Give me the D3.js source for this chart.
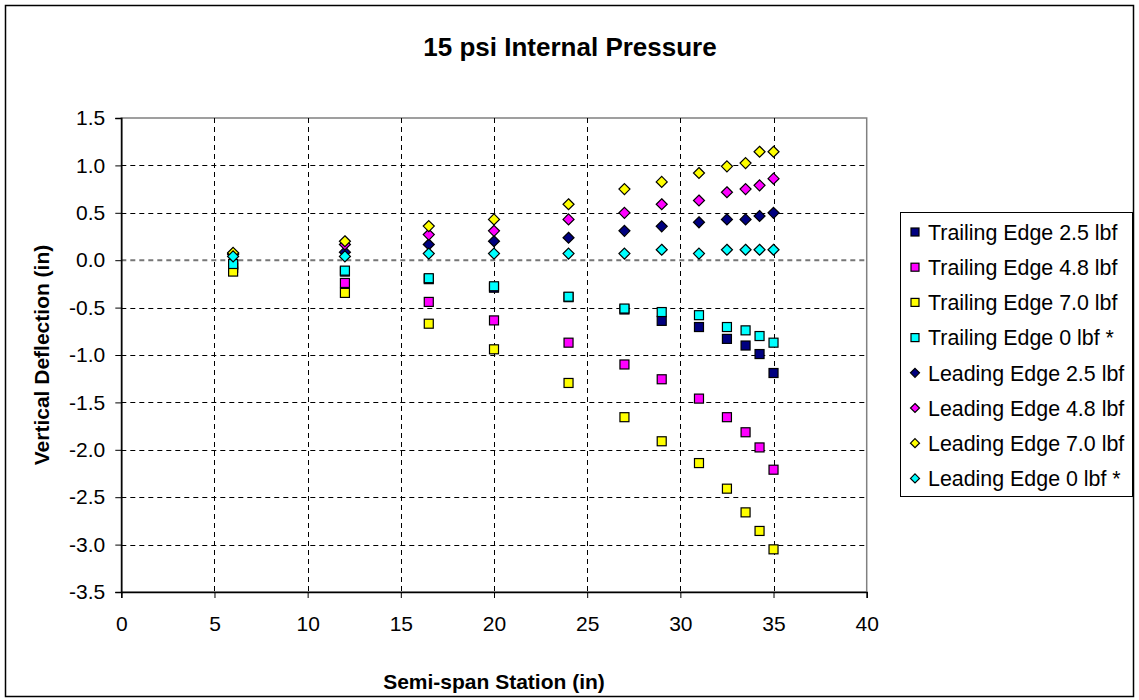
<!DOCTYPE html>
<html>
<head>
<meta charset="utf-8">
<script src="https://cdn.jsdelivr.net/npm/d3@7"></script>
<style>
  html, body { margin: 0; padding: 0; background: #fff; }
  svg { display: block; font-family: "Liberation Sans", Arial, sans-serif; }
</style>
</head>
<body>
<svg id="chart" width="1139" height="700"></svg>
<script>
// ---- data ----
const stations = [6, 12, 16.5, 20, 24, 27, 29, 31, 32.5, 33.5, 34.25, 35];
const trailing25 = [-0.05, -0.12, -0.20, -0.29, -0.39, -0.52, -0.64, -0.705, -0.83, -0.90, -0.99, -1.19];
const trailing48 = [-0.08, -0.24, -0.44, -0.635, -0.87, -1.10, -1.256, -1.46, -1.656, -1.815, -1.975, -2.21];
const trailing70 = [-0.12, -0.345, -0.67, -0.94, -1.295, -1.656, -1.91, -2.14, -2.41, -2.66, -2.856, -3.05];
const trailing0 = [-0.04, -0.11, -0.19, -0.275, -0.385, -0.51, -0.547, -0.58, -0.705, -0.74, -0.80, -0.87];
const leading25 = [0.06, 0.085, 0.166, 0.20, 0.237, 0.31, 0.357, 0.40, 0.43, 0.43, 0.466, 0.50];
const leading48 = [0.07, 0.166, 0.27, 0.31, 0.43, 0.50, 0.59, 0.63, 0.717, 0.75, 0.79, 0.86];
const leading70 = [0.078, 0.20, 0.36, 0.43, 0.59, 0.75, 0.826, 0.92, 0.99, 1.024, 1.144, 1.144];
const leading0 = [0.04, 0.04, 0.07, 0.07, 0.07, 0.07, 0.11, 0.07, 0.11, 0.11, 0.11, 0.11];

const seriesNames = ["Trailing Edge 2.5 lbf", "Trailing Edge 4.8 lbf", "Trailing Edge 7.0 lbf", "Trailing Edge 0 lbf *",
                     "Leading Edge 2.5 lbf", "Leading Edge 4.8 lbf", "Leading Edge 7.0 lbf", "Leading Edge 0 lbf *"];
const seriesValues = [trailing25, trailing48, trailing70, trailing0, leading25, leading48, leading70, leading0];
const seriesColors = ["#000080", "#FF00FF", "#FFFF00", "#00FFFF", "#000080", "#FF00FF", "#FFFF00", "#00FFFF"];
const seriesShapes = ["square", "square", "square", "square", "diamond", "diamond", "diamond", "diamond"];

const xTicks = [0, 5, 10, 15, 20, 25, 30, 35, 40];
const yTicks = [1.5, 1.0, 0.5, 0.0, -0.5, -1.0, -1.5, -2.0, -2.5, -3.0, -3.5];

const titleText = "15 psi Internal Pressure";
const xTitle = "Semi-span Station (in)";
const yTitle = "Vertical Deflection (in)";

// ---- layout ----
const svg = d3.select("#chart");
const W = 1139, H = 700;
const plot = { left: 121.3, right: 866.7, top: 118, bottom: 592 };

const x = d3.scaleLinear().domain([0, 40]).range([plot.left, plot.right]);
const y = d3.scaleLinear().domain([-3.5, 1.5]).range([plot.bottom, plot.top]);

// outer border
svg.append("rect").attr("x", 5.5).attr("y", 5.5).attr("width", W - 11).attr("height", H - 9)
  .attr("fill", "#fff").attr("stroke", "#000").attr("stroke-width", 1.5);

// plot area frame (top/right gray)
svg.append("rect").attr("x", plot.left).attr("y", plot.top)
  .attr("width", plot.right - plot.left).attr("height", plot.bottom - plot.top)
  .attr("fill", "#fff").attr("stroke", "#808080").attr("stroke-width", 1.5);

// gridlines
const grid = svg.append("g");
grid.selectAll("line.v").data(xTicks.filter(d => d > 0 && d < 40)).enter().append("line")
  .attr("x1", d => Math.round(x(d)) + 0.5).attr("x2", d => Math.round(x(d)) + 0.5)
  .attr("y1", plot.top).attr("y2", plot.bottom)
  .attr("stroke", "#000").attr("stroke-width", 1).attr("stroke-dasharray", "5,4");
grid.selectAll("line.h").data(yTicks.filter(d => d > -3.5 && d < 1.5)).enter().append("line")
  .attr("x1", plot.left).attr("x2", plot.right)
  .attr("y1", d => d === 0 ? y(d) : Math.round(y(d)) + 0.5)
  .attr("y2", d => d === 0 ? y(d) : Math.round(y(d)) + 0.5)
  .attr("stroke", d => d === 0 ? "#777" : "#000")
  .attr("stroke-width", d => d === 0 ? 2 : 1)
  .attr("stroke-dasharray", "5,4");

// axes
const fmtY = d3.format(".1f");
const yAxis = svg.append("g").attr("transform", `translate(${plot.left},0)`)
  .call(d3.axisLeft(y).tickValues(yTicks).tickFormat(d => fmtY(d).replace("−", "-")).tickSize(6).tickPadding(10));
const xAxis = svg.append("g").attr("transform", `translate(0,${plot.bottom})`)
  .call(d3.axisBottom(x).tickValues(xTicks).tickFormat(d3.format("d")).tickSize(6).tickPadding(18));
[xAxis, yAxis].forEach(a => {
  a.select(".domain").attr("stroke", "#000").attr("stroke-width", 1.5);
  a.selectAll(".tick line").attr("stroke", "#000").attr("stroke-width", 1);
  a.selectAll(".tick text").attr("fill", "#000").style("font-size", "21px")
    .style("font-family", '"Liberation Sans", Arial, sans-serif');
});

// markers
const diamondPath = (s) => `M0,${-s}L${s},0L0,${s}L${-s},0Z`;
seriesValues.forEach((vals, i) => {
  const g = svg.append("g");
  const pts = stations.map((s, j) => ({ s, v: vals[j] }));
  if (seriesShapes[i] === "square") {
    g.selectAll("rect").data(pts).enter().append("rect")
      .attr("x", d => x(d.s) - 4.5).attr("y", d => y(d.v) - 4.5)
      .attr("width", 9).attr("height", 9)
      .attr("fill", seriesColors[i]).attr("stroke", "#000").attr("stroke-width", 1.2);
  } else {
    g.selectAll("path").data(pts).enter().append("path")
      .attr("transform", d => `translate(${x(d.s)},${y(d.v)})`)
      .attr("d", diamondPath(5.5))
      .attr("fill", seriesColors[i]).attr("stroke", "#000").attr("stroke-width", 1.2);
  }
});

// titles
svg.append("text").attr("x", 570).attr("y", 56).attr("text-anchor", "middle")
  .style("font-size", "26px").style("font-weight", "bold").text(titleText);
svg.append("text").attr("x", (plot.left + plot.right) / 2).attr("y", 689)
  .attr("text-anchor", "middle").style("font-size", "21px").style("font-weight", "bold")
  .text(xTitle);
svg.append("text").attr("transform", `translate(49,${(plot.top + plot.bottom) / 2}) rotate(-90)`)
  .attr("text-anchor", "middle").style("font-size", "21px").style("font-weight", "bold").text(yTitle);

// legend
const lg = { x: 900.5, y: 212.5, w: 232, h: 284 };
svg.append("rect").attr("x", lg.x).attr("y", lg.y).attr("width", lg.w).attr("height", lg.h)
  .attr("fill", "#fff").attr("stroke", "#000").attr("stroke-width", 1);
const rowY = (i) => lg.y + 19.5 + i * 35.2;
seriesNames.forEach((name, i) => {
  const cy = rowY(i);
  if (seriesShapes[i] === "square") {
    svg.append("rect").attr("x", 911).attr("y", cy - 4).attr("width", 8).attr("height", 8)
      .attr("fill", seriesColors[i]).attr("stroke", "#000").attr("stroke-width", 1.2);
  } else {
    svg.append("path").attr("transform", `translate(915,${cy})`).attr("d", diamondPath(4.5))
      .attr("fill", seriesColors[i]).attr("stroke", "#000").attr("stroke-width", 1.2);
  }
  svg.append("text").attr("x", 928).attr("y", cy).attr("dy", "0.36em")
    .style("font-size", "21.4px").text(name);
});
</script>
</body>
</html>
